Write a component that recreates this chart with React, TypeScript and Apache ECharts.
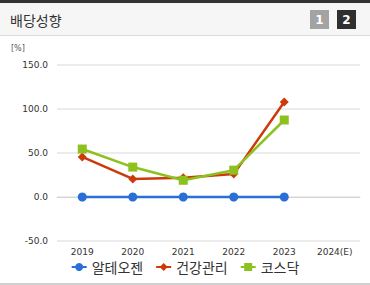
import React, { useEffect, useRef } from "react";
import * as echarts from "echarts";

const categories = ["2019", "2020", "2021", "2022", "2023", "2024(E)"];
const alteogen = [0, 0, 0, 0, 0, null];
const healthcare = [45.5, 20.5, 22, 26, 108, null];
const kosdaq = [54.5, 34, 19, 30.5, 87.5, null];
const yTicks = { min: -50, max: 150, interval: 50 };

const KR = "'Noto Sans CJK KR', 'Noto Sans', sans-serif";

export default function App() {
  const ref = useRef<HTMLDivElement>(null);
  useEffect(() => {
    document.body.style.margin = "0";
    const chart = echarts.init(ref.current!, null, { renderer: "svg" });
    chart.setOption({
      animation: false,
      backgroundColor: "#fff",
      graphic: [
        { type: "rect", shape: { x: 0, y: 0, width: 370, height: 36 }, style: { fill: "#f6f6f6" }, z: 0 },
        { type: "rect", shape: { x: 0, y: 0, width: 370, height: 3 }, style: { fill: "#333" }, z: 1 },
        { type: "rect", shape: { x: 0, y: 35, width: 370, height: 1 }, style: { fill: "#dcdcdc" }, z: 1 },
        { type: "text", x: 10, y: 20, style: { text: "배당성향", font: `14px ${KR}`, fill: "#333", verticalAlign: "middle" }, z: 2 },
        { type: "rect", shape: { x: 310, y: 10, width: 19, height: 19 }, style: { fill: "#a3a3a3" }, z: 2 },
        { type: "text", x: 319.5, y: 20, style: { text: "1", font: "bold 12px 'DejaVu Sans', sans-serif", fill: "#fff", align: "center", verticalAlign: "middle" }, z: 3 },
        { type: "rect", shape: { x: 337, y: 10, width: 19, height: 19 }, style: { fill: "#2f2f2f" }, z: 2 },
        { type: "text", x: 346.5, y: 20, style: { text: "2", font: "bold 12px 'DejaVu Sans', sans-serif", fill: "#fff", align: "center", verticalAlign: "middle" }, z: 3 },
        { type: "text", x: 11, y: 48, style: { text: "[%]", font: "8px 'DejaVu Sans', sans-serif", fill: "#555", verticalAlign: "middle" }, z: 2 },
        { type: "rect", shape: { x: 0, y: 283, width: 370, height: 2 }, style: { fill: "#cfcfcf" }, z: 1 },
      ],
      grid: { left: 57, right: 10, top: 65, bottom: 44 },
      legend: {
        bottom: 6,
        left: "center",
        itemWidth: 15,
        itemHeight: 10,
        itemGap: 12,
        textStyle: { fontFamily: KR, fontSize: 14, color: "#333" },
        data: ["알테오젠", "건강관리", "코스닥"],
      },
      xAxis: {
        type: "category",
        data: categories,
        boundaryGap: true,
        axisLine: { lineStyle: { color: "#d5d5d5" } },
        axisTick: { lineStyle: { color: "#d5d5d5" }, length: 4 },
        axisLabel: { fontSize: 9, color: "#333", margin: 6, fontFamily: "'DejaVu Sans', sans-serif" },
      },
      yAxis: {
        type: "value",
        min: yTicks.min,
        max: yTicks.max,
        interval: yTicks.interval,
        axisLine: { show: false },
        axisTick: { show: false },
        axisLabel: { fontSize: 9, color: "#333", margin: 9, fontFamily: "'DejaVu Sans', sans-serif", formatter: (v: number) => v.toFixed(1) },
        splitLine: { lineStyle: { color: "#e6e6e6", width: 1.5 } },
      },
      series: [
        { name: "알테오젠", type: "line", data: alteogen, symbol: "circle", symbolSize: 9, itemStyle: { color: "#2a6fd6" }, lineStyle: { width: 2.5, color: "#2a6fd6" }, z: 3 },
        { name: "건강관리", type: "line", data: healthcare, symbol: "diamond", symbolSize: 9, itemStyle: { color: "#cc3a0a" }, lineStyle: { width: 2.5, color: "#cc3a0a" }, z: 4 },
        { name: "코스닥", type: "line", data: kosdaq, symbol: "rect", symbolSize: 9, itemStyle: { color: "#8cc11e" }, lineStyle: { width: 2.5, color: "#8cc11e" }, z: 5 },
      ],
    });
    return () => chart.dispose();
  }, []);
  return <div ref={ref} style={{ width: 370, height: 285 }} />;
}
